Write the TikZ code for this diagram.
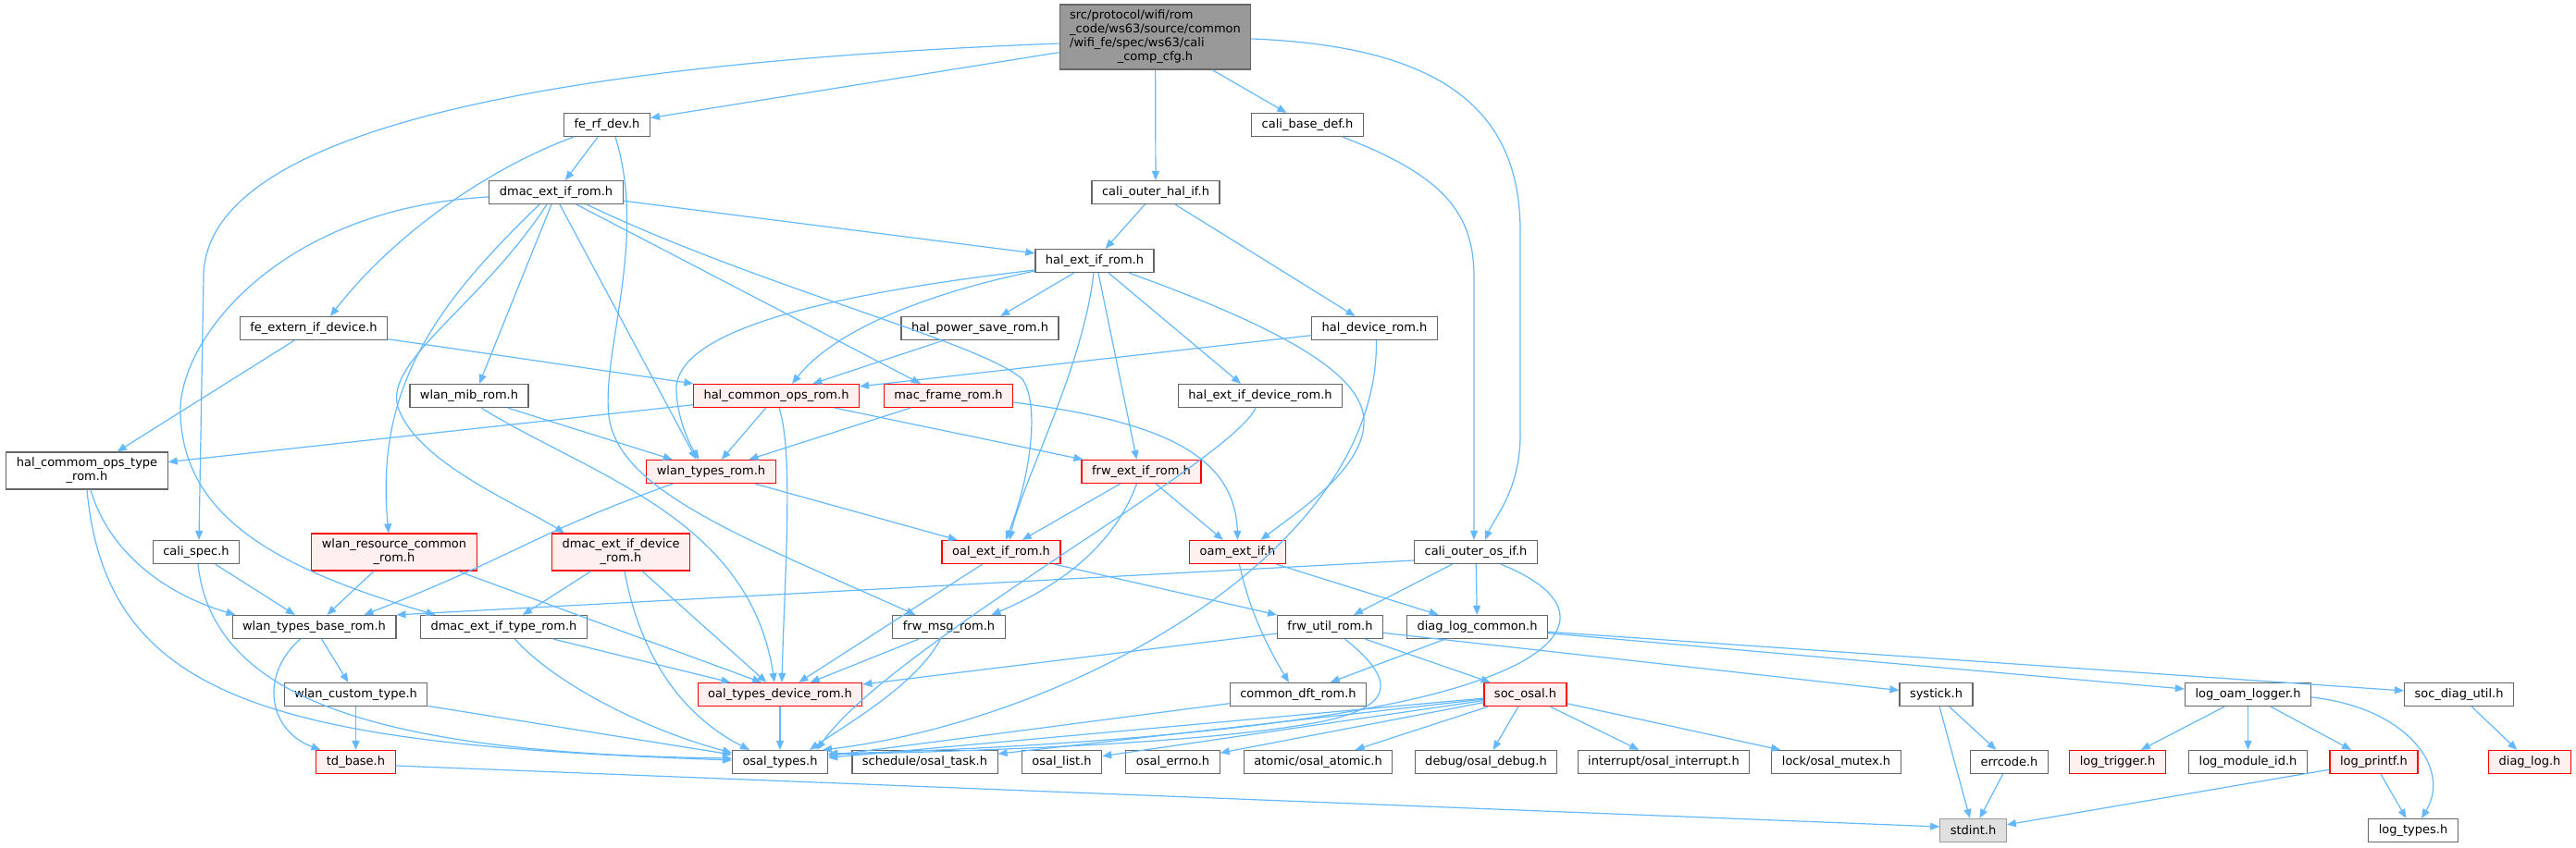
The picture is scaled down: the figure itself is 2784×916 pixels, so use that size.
\documentclass[tikz,border=0pt]{standalone}
\usepackage{fontspec}
\setmainfont{DejaVu Sans}
\usetikzlibrary{arrows.meta}
\definecolor{edgeblue}{HTML}{63B8FF}
\definecolor{boxgrey}{HTML}{666666}
\definecolor{rootfill}{HTML}{999999}
\definecolor{redfill}{HTML}{FFF0F0}
\definecolor{sysfill}{HTML}{E0E0E0}
\definecolor{sysline}{HTML}{999999}
\tikzset{hdr/.style={draw=boxgrey, fill=white, line width=1.2pt, font=\fontsize{13}{15}\selectfont,
    inner xsep=11pt, inner ysep=6pt, minimum height=25pt, align=center},
  redhdr/.style={hdr, draw=red, fill=redfill},
  roothdr/.style={hdr, fill=rootfill, inner ysep=5pt},
  syshdr/.style={hdr, draw=sysline, fill=sysfill},
  incl/.style={draw=edgeblue, line width=1.2pt, -{Triangle[length=10pt,width=8pt]}}}

\begin{document}
\begin{tikzpicture}[x=1pt,y=-1pt]
\useasboundingbox (0,0) rectangle (2784,916);

\node[roothdr] (root) at (1248.5,40) {\begin{tabular}{@{}l@{}}src/protocol/wifi/rom\\ \_code/ws63/source/common\\ /wifi\_fe/spec/ws63/cali\\ \multicolumn{1}{@{}c@{}}{\_comp\_cfg.h}\end{tabular}};

\node[hdr] (ferf) at (656,135) {fe\_rf\_dev.h};
\node[hdr] (cbase) at (1413,135) {cali\_base\_def.h};
\node[hdr] (dmac) at (601,208) {dmac\_ext\_if\_rom.h};
\node[hdr] (cohal) at (1249,208) {cali\_outer\_hal\_if.h};
\node[hdr] (hext) at (1183,282) {hal\_ext\_if\_rom.h};
\node[hdr] (fext) at (339,355) {fe\_extern\_if\_device.h};
\node[hdr] (hpsr) at (1059,355) {hal\_power\_save\_rom.h};
\node[hdr] (hdev) at (1485.5,355) {hal\_device\_rom.h};
\node[hdr] (wmib) at (507,428) {wlan\_mib\_rom.h};
\node[redhdr] (hcom) at (839,428) {hal\_common\_ops\_rom.h};
\node[redhdr] (mfr) at (1025,428) {mac\_frame\_rom.h};
\node[hdr] (hextd) at (1362,428) {hal\_ext\_if\_device\_rom.h};
\node[hdr] (hcot) at (94,509) {hal\_commom\_ops\_type\\\_rom.h};
\node[redhdr] (wtr) at (768.5,510) {wlan\_types\_rom.h};
\node[redhdr] (frwext) at (1233.5,510) {frw\_ext\_if\_rom.h};
\node[hdr] (cspec) at (212,597) {cali\_spec.h};
\node[redhdr] (wres) at (426,597) {wlan\_resource\_common\\\_rom.h};
\node[redhdr] (dmacdev) at (671,597) {dmac\_ext\_if\_device\\\_rom.h};
\node[redhdr] (oalext) at (1082,597) {oal\_ext\_if\_rom.h};
\node[redhdr] (oamext) at (1337.5,597) {oam\_ext\_if.h};
\node[hdr] (cos) at (1595,597) {cali\_outer\_os\_if.h};
\node[hdr] (wtbase) at (339.5,678) {wlan\_types\_base\_rom.h};
\node[hdr] (dmactype) at (544.5,678) {dmac\_ext\_if\_type\_rom.h};
\node[hdr] (frwmsg) at (1025.5,678) {frw\_msg\_rom.h};
\node[hdr] (frwutil) at (1437.5,678) {frw\_util\_rom.h};
\node[hdr] (dlc) at (1596.5,678) {diag\_log\_common.h};
\node[hdr] (wcust) at (384.5,751) {wlan\_custom\_type.h};
\node[redhdr] (oaltd) at (843,751) {oal\_types\_device\_rom.h};
\node[hdr] (cdft) at (1403,751) {common\_dft\_rom.h};
\node[redhdr] (socosal) at (1648.5,751) {soc\_osal.h};
\node[hdr] (systick) at (2092.5,751) {systick.h};
\node[hdr] (logoam) at (2429.5,751) {log\_oam\_logger.h};
\node[hdr] (socdiag) at (2657.5,751) {soc\_diag\_util.h};
\node[redhdr] (tdbase) at (384.5,824) {td\_base.h};
\node[hdr] (osal) at (843,824) {osal\_types.h};
\node[hdr] (otask) at (999.5,824) {schedule/osal\_task.h};
\node[hdr] (olist) at (1147.5,824) {osal\_list.h};
\node[hdr] (oerrno) at (1267.5,824) {osal\_errno.h};
\node[hdr] (oatomic) at (1424.5,824) {atomic/osal\_atomic.h};
\node[hdr] (odebug) at (1606,824) {debug/osal\_debug.h};
\node[hdr] (ointr) at (1798,824) {interrupt/osal\_interrupt.h};
\node[hdr] (omutex) at (1984.5,824) {lock/osal\_mutex.h};
\node[hdr] (errcode) at (2171.5,824) {errcode.h};
\node[redhdr] (logtrig) at (2288.5,824) {log\_trigger.h};
\node[hdr] (logmod) at (2429.5,824) {log\_module\_id.h};
\node[redhdr] (logprintf) at (2565.5,824) {log\_printf.h};
\node[redhdr] (diaglog) at (2734,824) {diag\_log.h};
\node[syshdr] (stdint) at (2132.5,898) {stdint.h};
\node[hdr] (logtypes) at (2608,898) {log\_types.h};

% top of the tree
\draw[incl] (root) -- (ferf);
\draw[incl] ([yshift=-7pt]root.west) .. controls (550,70) and (220,150) .. (220,300) -- ([xshift=3pt]cspec.north);
\draw[incl] (root) -- (cohal);
\draw[incl] (root) -- (cbase);
\draw[incl] ([yshift=-2pt]root.east) .. controls (1560,50) and (1643,120) .. (1643,250) -- (1643,470) .. controls (1643,530) and (1615,560) .. ([xshift=10pt]cos.north);

\draw[incl] (ferf) -- (dmac);
\draw[incl] ([xshift=-36pt]ferf.south) .. controls (520,185) and (420,260) .. ([xshift=18pt]fext.north);
\draw[incl] ([xshift=9pt]ferf.south) .. controls (700,260) and (650,380) .. (658,450) .. controls (668,530) and (800,580) .. ([xshift=-36pt]frwmsg.north);
\draw[incl] ([xshift=38pt]cbase.south) .. controls (1560,190) and (1593,230) .. (1593,300) -- ([xshift=-2pt]cos.north);
\draw[incl] (cohal) -- (hext);
\draw[incl] (cohal) -- (hdev);

\draw[incl] (dmac) -- (hext);
\draw[incl] ([yshift=-5pt]dmac.west) .. controls (300,225) and (190,370) .. (195,450) .. controls (200,560) and (300,615) .. ([xshift=-74pt]dmactype.north);
\draw[incl] ([xshift=-18pt]dmac.south) .. controls (470,330) and (405,420) .. ([xshift=-6pt]wres.north);
\draw[incl] ([xshift=-10pt]dmac.south) .. controls (520,330) and (415,390) .. (430,440) .. controls (450,500) and (560,545) .. ([xshift=-61pt]dmacdev.north);
\draw[incl] ([xshift=-5pt]dmac.south) -- ([xshift=11pt]wmib.north);
\draw[incl] ([xshift=4pt]dmac.south) -- ([xshift=-16pt]wtr.north);
\draw[incl] ([xshift=22pt]dmac.south) -- ([xshift=-30pt]mfr.north);
\draw[incl] ([xshift=33pt]dmac.south) .. controls (820,310) and (1060,370) .. (1105,410) .. controls (1125,440) and (1112,520) .. ([xshift=5pt]oalext.north);

\draw[incl] (fext) -- (hcot);
\draw[incl] (fext) -- (hcom);

\draw[incl] ([yshift=-11pt]hext.west) .. controls (990,320) and (900,360) .. ([xshift=17pt]hcom.north);
\draw[incl] ([yshift=-10pt]hext.west) .. controls (880,320) and (725,360) .. (731,425) .. controls (733,455) and (745,480) .. ([xshift=-13pt]wtr.north);
\draw[incl] (hext) -- (hpsr);
\draw[incl] ([xshift=-1pt]hext.south) .. controls (1170,400) and (1105,520) .. ([xshift=9pt]oalext.north);
\draw[incl] ([xshift=4pt]hext.south) -- ([xshift=-5pt]frwext.north);
\draw[incl] ([xshift=15pt]hext.south) -- ([xshift=-21pt]hextd.north);
\draw[incl] ([xshift=37pt]hext.south) .. controls (1400,360) and (1478,410) .. (1474,460) .. controls (1470,510) and (1400,555) .. ([xshift=25pt]oamext.north);

\draw[incl] (hdev) -- (hcom);
\draw[incl] ([xshift=2pt]hdev.south) .. controls (1490,600) and (1150,780) .. ([xshift=46pt]osal.north);
\draw[incl] (hpsr) -- (hcom);
\draw[incl] ([xshift=-5pt]hextd.south) .. controls (1330,500) and (960,700) .. ([xshift=40pt]osal.north);

\draw[incl] (wmib) -- (wtr);
\draw[incl] ([xshift=13pt]wmib.south) .. controls (640,515) and (810,560) .. ([xshift=-6pt]oaltd.north);
\draw[incl] (hcom) -- (wtr);
\draw[incl] (hcom) -- (hcot);
\draw[incl] ([xshift=3pt]hcom.south) .. controls (858,490) and (848,620) .. ([xshift=2pt]oaltd.north);
\draw[incl] (hcom) -- (frwext);
\draw[incl] (mfr) -- (wtr);
\draw[incl] ([yshift=-7pt]mfr.east) .. controls (1250,455) and (1335,490) .. (oamext.north);

\draw[incl] (frwext) -- (oalext);
\draw[incl] (frwext) -- (oamext);
\draw[incl] ([xshift=-5pt]frwext.south) .. controls (1200,600) and (1130,640) .. ([xshift=46pt]frwmsg.north);
\draw[incl] (wtr) -- (oalext);
\draw[incl] ([xshift=-41pt]wtr.south) .. controls (580,575) and (560,600) .. ([xshift=54pt]wtbase.north);

\draw[incl] (cspec) -- (wtbase);
\draw[incl] ([xshift=2pt]cspec.south) .. controls (230,760) and (420,815) .. ([yshift=4pt]osal.west);
\draw[incl] ([xshift=4pt]hcot.south) .. controls (115,590) and (170,640) .. ([xshift=4pt]wtbase.north west);
\draw[incl] (hcot.south) .. controls (115,760) and (300,805) .. ([yshift=2pt]osal.west);
\draw[incl] (wres) -- (wtbase);
\draw[incl] ([xshift=69pt]wres.south) -- ([xshift=-20pt]oaltd.north);
\draw[incl] (dmacdev) -- (dmactype);
\draw[incl] (dmacdev) -- (oaltd);
\draw[incl] ([xshift=4pt]dmacdev.south) .. controls (690,700) and (730,770) .. ([xshift=-33pt]osal.north);

\draw[incl] (oalext) -- (oaltd);
\draw[incl] (oalext) -- (frwutil);
\draw[incl] (oamext) -- (dlc);
\draw[incl] ([xshift=2pt]oamext.south) .. controls (1350,660) and (1370,700) .. ([xshift=-10pt]cdft.north);
\draw[incl] (cos) -- (frwutil);
\draw[incl] (cos) -- (dlc);
\draw[incl] ([yshift=-9pt]cos.west) -- (wtbase.north east);
\draw[incl] ([xshift=27pt]cos.south) .. controls (1720,650) and (1700,700) .. (1600,735) .. controls (1450,790) and (1100,810) .. ([yshift=9pt]osal.east);

\draw[incl] (wtbase) -- (wcust);
\draw[incl] ([xshift=-15pt]wtbase.south) .. controls (280,730) and (290,790) .. ([xshift=-38pt]tdbase.north);
\draw[incl] (dmactype) -- (oaltd);
\draw[incl] ([xshift=12pt]dmactype.south) .. controls (600,740) and (700,790) .. ([yshift=10pt]osal.west);
\draw[incl] (frwmsg) -- (oaltd);
\draw[incl] ([xshift=-9pt]frwmsg.south) .. controls (990,740) and (920,780) .. ([xshift=32pt]osal.north);
\draw[incl] (frwutil) -- (oaltd);
\draw[incl] (frwutil) -- (socosal);
\draw[incl] (frwutil) -- (systick);
\draw[incl] ([xshift=16pt]frwutil.south) .. controls (1515,740) and (1500,765) .. (1430,780) .. controls (1300,805) and (1050,812) .. ([yshift=8pt]osal.east);
\draw[incl] (dlc) -- (cdft);
\draw[incl] (dlc) -- (logoam);
\draw[incl] (dlc) -- (socdiag);

\draw[incl] (wcust) -- (tdbase);
\draw[incl] (wcust) -- ([yshift=8pt]osal.west);
\draw[incl] (oaltd) -- (osal);
\draw[incl] (cdft) -- (osal);
\foreach \t in {osal,otask,olist,oerrno,oatomic,odebug,ointr,omutex}
  \draw[incl] (socosal) -- (\t);
\draw[incl] (systick) -- (errcode);
\draw[incl] (systick) -- (stdint);
\draw[incl] (errcode) -- (stdint);
\draw[incl] (logoam) -- (logtrig);
\draw[incl] (logoam) -- (logmod);
\draw[incl] (logoam) -- (logprintf);
\draw[incl] ([yshift=-3pt]logoam.east) .. controls (2600,765) and (2650,830) .. ([xshift=9pt]logtypes.north);
\draw[incl] (logprintf) -- (stdint);
\draw[incl] (logprintf) -- (logtypes);
\draw[incl] (socdiag) -- (diaglog);
\draw[incl] ([yshift=-4pt]tdbase.east) -- ([yshift=4pt]stdint.west);

\end{tikzpicture}
\end{document}
